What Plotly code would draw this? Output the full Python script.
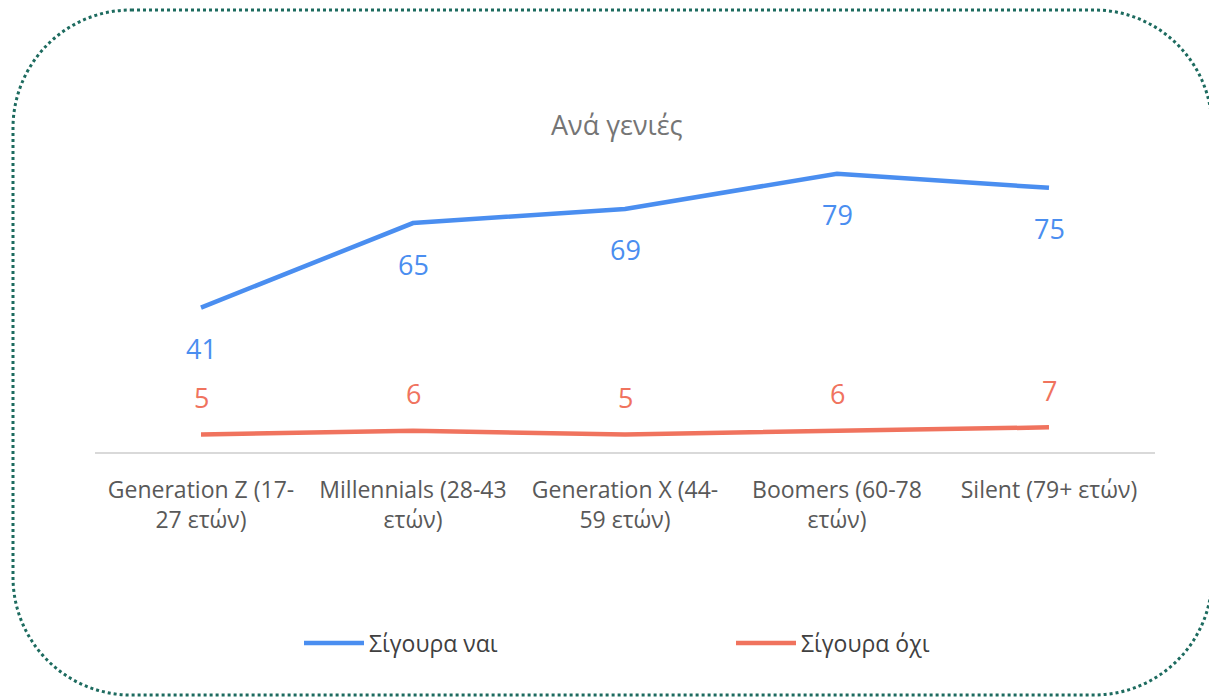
import plotly.graph_objects as go

categories = ["Generation Z (17-<br>27 ετών)", "Millennials (28-43<br>ετών)",
              "Generation X (44-<br>59 ετών)", "Boomers (60-78<br>ετών)", "Silent (79+ ετών)"]
yes_vals = [41, 65, 69, 79, 75]
no_vals = [5, 6, 5, 6, 7]
series_names = ["Σίγουρα ναι", "Σίγουρα όχι"]
title_text = "Ανά γενιές"

BLUE = "#4a8ef0"
RED = "#f0735e"
FONT = "Open Sans"

OFF = 8  # page body margin
W, H = 1217 - OFF, 700 - OFF
# plot area in page pixels
PX0, PX1, PY0, PY1 = 95, 1155, 135, 452
L, R, T, B = PX0 - OFF, W - (PX1 - OFF), PY0 - OFF, H - (PY1 - OFF)
PW, PH = W - L - R, H - T - B

def px(x):
    return (x - OFF - L) / PW

def py(y):
    return (H - B - (y - OFF)) / PH

fig = go.Figure()
fig.add_trace(go.Scatter(x=categories, y=yes_vals, mode="lines", name=series_names[0],
                         line=dict(color=BLUE, width=4.5), cliponaxis=False))
fig.add_trace(go.Scatter(x=categories, y=no_vals, mode="lines", name=series_names[1],
                         line=dict(color=RED, width=4.5), cliponaxis=False))

for c, v in zip(categories, yes_vals):
    fig.add_annotation(x=c, y=v, text=str(v), showarrow=False, yshift=-41,
                       font=dict(family=FONT, size=27, color=BLUE))
for c, v in zip(categories, no_vals):
    fig.add_annotation(x=c, y=v, text=str(v), showarrow=False, yshift=37,
                       font=dict(family=FONT, size=27, color=RED))

fig.add_annotation(x=px(617), y=py(104), xref="paper", yref="paper", text=title_text,
                   showarrow=False, font=dict(family=FONT, size=27, color="#757575"))

# rounded dotted border (page pixel coordinates)
x0, x1, y0, y1, r = 13, 1212, 10, 695, 118
k = 0.5523 * r
def P(x, y):
    return f"{px(x):.5f},{py(y):.5f}"
path = (f"M {P(x0 + r, y0)} L {P(x1 - r, y0)} "
        f"C {P(x1 - r + k, y0)} {P(x1, y0 + r - k)} {P(x1, y0 + r)} "
        f"L {P(x1, y1 - r)} "
        f"C {P(x1, y1 - r + k)} {P(x1 - r + k, y1)} {P(x1 - r, y1)} "
        f"L {P(x0 + r, y1)} "
        f"C {P(x0 + r - k, y1)} {P(x0, y1 - r + k)} {P(x0, y1 - r)} "
        f"L {P(x0, y0 + r)} "
        f"C {P(x0, y0 + r - k)} {P(x0 + r - k, y0)} {P(x0 + r, y0)} Z")
fig.add_shape(type="path", path=path, xref="paper", yref="paper",
              line=dict(color="#1d6b5f", width=3, dash="dot"))

fig.update_layout(
    width=W, height=H,
    margin=dict(l=L, r=R, t=T, b=B),
    paper_bgcolor="white", plot_bgcolor="white",
    font=dict(family=FONT, size=23, color="#595959"),
    showlegend=True,
    legend=dict(orientation="h", x=px(299), xanchor="left", y=py(643), yanchor="middle",
                font=dict(family=FONT, size=23, color="#404040"), entrywidth=357,
                itemwidth=60),
    xaxis=dict(type="category", range=[-0.5, 4.5], showgrid=False, showline=True,
               linecolor="#d9d9d9", linewidth=1.5, ticks="", ticklabelstandoff=17,
               tickfont=dict(family=FONT, size=23, color="#595959"), fixedrange=True),
    yaxis=dict(range=[0, 90], visible=False, showgrid=False, zeroline=False),
)

fig.write_html("out.html")
